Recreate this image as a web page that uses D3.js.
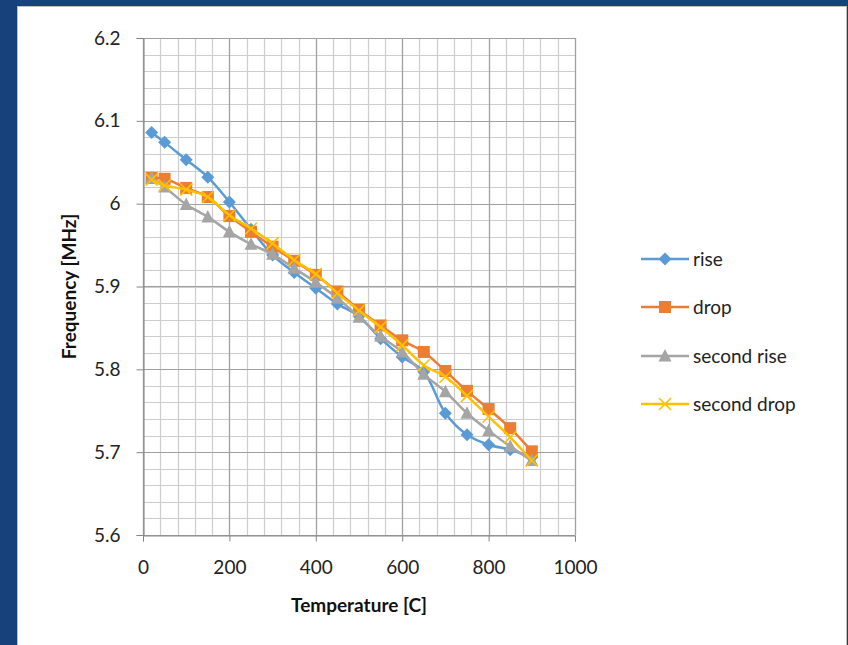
<!DOCTYPE html>
<html><head><meta charset="utf-8">
<script src="https://cdn.jsdelivr.net/npm/d3@7"></script>
<style>
html,body{margin:0;padding:0;background:#17417a;}
svg{display:block;}
</style></head>
<body>
<svg id="chart" width="848" height="645"></svg>
<script>
const temperatures = [20,50,100,150,200,250,300,350,400,450,500,550,600,650,700,750,800,850,900];
const rise       = [6.086,6.074,6.053,6.032,6.002,5.969,5.938,5.917,5.898,5.879,5.864,5.837,5.815,5.797,5.747,5.721,5.709,5.703,5.694];
const drop       = [6.031,6.030,6.019,6.008,5.985,5.966,5.948,5.931,5.914,5.894,5.872,5.853,5.835,5.821,5.798,5.774,5.752,5.729,5.701];
const secondRise = [6.031,6.020,5.999,5.984,5.966,5.951,5.939,5.922,5.905,5.886,5.863,5.840,5.821,5.794,5.773,5.747,5.726,5.707,5.690];
const secondDrop = [6.029,6.022,6.017,6.008,5.986,5.970,5.952,5.932,5.915,5.892,5.871,5.851,5.829,5.805,5.791,5.768,5.743,5.718,5.690];
const seriesNames = ["rise","drop","second rise","second drop"];
const xTicks = [0,200,400,600,800,1000];
const yTicks = [5.6,5.7,5.8,5.9,6,6.1,6.2];

const colors = ["#5b9bd5","#ed7d31","#a5a5a5","#ffc000"];
const markers = ["diamond","square","triangle","x"];
const allSeries = [rise, drop, secondRise, secondDrop];

const svg = d3.select("#chart");
const font = "Lato, 'Open Sans', sans-serif";

// white panel
svg.append("rect").attr("x",17.5).attr("y",6.5).attr("width",829).attr("height",645)
  .attr("fill","#fff").attr("stroke","#c0c0c0").attr("stroke-width",1);

const L=143, R=575, T=38, B=535;
const x = d3.scaleLinear().domain([0,1000]).range([L,R]);
const y = d3.scaleLinear().domain([5.6,6.2]).range([B,T]);

const g = svg.append("g");
// minor grid
const xMinor = d3.range(0,1000.1,40), yMinor = d3.range(0,31).map(i=>5.6+i*0.02);
g.selectAll(".vm").data(xMinor).join("line")
  .attr("x1",d=>Math.round(x(d))+0.5).attr("x2",d=>Math.round(x(d))+0.5).attr("y1",T).attr("y2",B)
  .attr("stroke","#cdcdcd").attr("stroke-width",1.2);
g.selectAll(".hm").data(yMinor).join("line")
  .attr("y1",d=>Math.round(y(d))+0.5).attr("y2",d=>Math.round(y(d))+0.5).attr("x1",L).attr("x2",R)
  .attr("stroke","#cdcdcd").attr("stroke-width",1.2);
// major grid
g.selectAll(".vM").data(xTicks).join("line")
  .attr("x1",d=>Math.round(x(d))+0.5).attr("x2",d=>Math.round(x(d))+0.5).attr("y1",T).attr("y2",B)
  .attr("stroke","#a0a0a0").attr("stroke-width",1.2);
g.selectAll(".hM").data(yTicks).join("line")
  .attr("y1",d=>Math.round(y(d))+0.5).attr("y2",d=>Math.round(y(d))+0.5).attr("x1",L).attr("x2",R)
  .attr("stroke","#a0a0a0").attr("stroke-width",1.2);

// axes
const xAxis = d3.axisBottom(x).tickValues(xTicks).tickSize(6).tickPadding(19).tickFormat(d3.format("d"));
const yAxis = d3.axisLeft(y).tickValues(yTicks).tickSize(7).tickPadding(16).tickFormat(d=>d3.format("")(+d.toFixed(1)));
const gx = svg.append("g").attr("transform",`translate(0,${B+0.5})`).call(xAxis);
const gy = svg.append("g").attr("transform",`translate(${L+0.5},0)`).call(yAxis);
[gx,gy].forEach(a=>{
  a.select(".domain").attr("stroke","#868686");
  a.selectAll(".tick line").attr("stroke","#868686");
  a.selectAll("text").attr("font-family",font).attr("font-size",19).attr("fill","#222");
});

// series
const line = d3.line().x((d,i)=>x(temperatures[i])).y(d=>y(d)).curve(d3.curveCatmullRom.alpha(0.5));
function drawMarker(sel, type, color){
  if(type==="diamond"){
    sel.append("path").attr("d","M0,-6.5L6.5,0L0,6.5L-6.5,0Z").attr("fill",color);
  } else if(type==="square"){
    sel.append("rect").attr("x",-6).attr("y",-6).attr("width",12).attr("height",12).attr("fill",color);
  } else if(type==="triangle"){
    sel.append("path").attr("d","M0,-7L6.5,5.5L-6.5,5.5Z").attr("fill",color);
  } else {
    sel.append("path").attr("d","M-6,-6L6,6M-6,6L6,-6").attr("stroke",color).attr("stroke-width",1.6).attr("fill","none");
  }
}
allSeries.forEach((vals,k)=>{
  const sg = svg.append("g");
  sg.append("path").datum(vals).attr("d",line).attr("fill","none").attr("stroke",colors[k]).attr("stroke-width",2.5);
  vals.forEach((v,i)=>{
    const m = sg.append("g").attr("transform",`translate(${x(temperatures[i])},${y(v)})`);
    drawMarker(m, markers[k], colors[k]);
  });
});

// legend
const legY = [259,307,356,404];
seriesNames.forEach((n,k)=>{
  const lg = svg.append("g").attr("transform",`translate(0,${legY[k]})`);
  lg.append("line").attr("x1",641).attr("x2",689).attr("y1",0).attr("y2",0).attr("stroke",colors[k]).attr("stroke-width",2.5);
  const m = lg.append("g").attr("transform","translate(665,0)");
  drawMarker(m, markers[k], colors[k]);
  lg.append("text").attr("x",693).attr("y",0).attr("dy","0.35em").text(n)
    .attr("font-family",font).attr("font-size",19).attr("fill","#222");
});

// axis titles
svg.append("text").attr("x",359).attr("y",612).attr("text-anchor","middle")
  .attr("font-family",font).attr("font-weight","bold").attr("font-size",19).attr("fill","#111")
  .text("Temperature [C]");
svg.append("text").attr("transform",`translate(76,${(T+B)/2}) rotate(-90)`).attr("text-anchor","middle")
  .attr("font-family",font).attr("font-weight","bold").attr("font-size",19).attr("fill","#111")
  .text("Frequency [MHz]");
</script>
</body></html>
